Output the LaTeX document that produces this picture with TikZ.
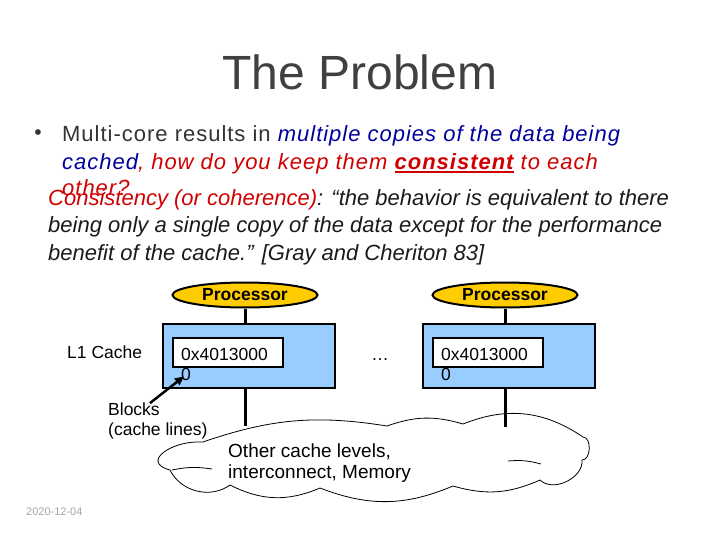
\documentclass[tikz,border=0pt]{standalone}
\usepackage{fontspec}
\setmainfont{Liberation Sans}
\newfontfamily\widefont[LetterSpace=4.5]{Liberation Sans}
\usetikzlibrary{shapes.geometric}
\usetikzlibrary{arrows.meta}

\definecolor{slidegray}{HTML}{404040}
\definecolor{textgray}{HTML}{333333}
\definecolor{quoteblack}{HTML}{1A1A1A}
\definecolor{keyblue}{HTML}{00009C}
\definecolor{keyred}{HTML}{D00000}
\definecolor{cachefill}{HTML}{99CCFF}
\definecolor{procfill}{HTML}{FFCC00}
\definecolor{dategray}{HTML}{A6A6A6}

\newcommand{\setfs}[1]{\fontsize{#1}{#1}\selectfont}
\newsavebox{\ulwordbox}
\newcommand{\ulword}[1]{\sbox{\ulwordbox}{#1}\rlap{\rule[-3pt]{\wd\ulwordbox}{1.6pt}}\usebox{\ulwordbox}}

\begin{document}
\begin{tikzpicture}[x=1pt, y=-1pt,
  txt/.style={inner sep=0, anchor=base west},
  proc/.style={ellipse, draw, line width=2pt, fill=procfill, minimum width=145pt,
    minimum height=25pt, inner sep=0, font=\bfseries\setfs{17.5}},
  cachebox/.style={draw, line width=2.5pt, fill=cachefill, minimum width=172pt, minimum height=64pt},
  blockbox/.style={draw, line width=2.5pt, fill=white, minimum width=110pt, minimum height=29pt},
  wire/.style={line width=3pt},
  puff/.style={line width=0.8pt}]

  \useasboundingbox (0,0) rectangle (720,540);

  % Title
  \node[inner sep=0, anchor=base, font=\setfs{48}, text=slidegray] (title) at (360,90) {The Problem};

  % Bullet text
  \node[inner sep=0, font=\setfs{21}, text=textgray] (dot) at (38,135) {\textbullet};
  \node[txt, font=\widefont\setfs{22}, text=textgray] (line1) at (62,142)
    {Multi-core results in \textcolor{keyblue}{\itshape multiple copies of the data being}};
  \node[txt, font=\widefont\setfs{22}\itshape, text=keyred] (line2) at (62,170)
    {\textcolor{keyblue}{cached}, how do you keep them \ulword{\bfseries consistent} to each};
  \node[txt, font=\widefont\setfs{22}\itshape, text=keyred] (line3) at (62,196) {other?};

  % Quote
  \node[txt, font=\setfs{22}\itshape, text=quoteblack] (quote1) at (48,206)
    {\textcolor{keyred}{Consistency (or coherence)}: “the behavior is equivalent to there};
  \node[txt, font=\setfs{22}\itshape, text=quoteblack] (quote2) at (48,233)
    {being only a single copy of the data except for the performance};
  \node[txt, font=\setfs{22}\itshape, text=quoteblack] (quote3) at (48,260)
    {benefit of the cache.” [Gray and Cheriton 83]};

  % Memory cloud
  \draw[puff, fill=white] (203,442) .. controls (172,440) and (140,462) .. (170,470)
    to[bend right=50] (230,485) to[bend right=25] (320,488) to[bend right=22] (453,486)
    to[bend right=20] (540,480) to[bend right=70] (582,460) to[bend right=90] (583,437)
    to[bend right=28] (463,424) to[bend right=18] (387,426) to[bend right=14] (203,442) -- cycle;
  \draw[puff] (172,470) to[bend left=10] (212,469);
  \draw[puff] (508,461) to[bend left=10] (541,464);
  \node[txt, font=\setfs{19}] (mem) at (228,457) {Other cache levels,};
  \node[txt, font=\setfs{19}] (memb) at (228,478) {interconnect, Memory};
  \coordinate (mem1) at (245,426);
  \coordinate (mem2) at (505,427);

  % Processors and L1 caches
  \node[proc] (proc1) at (245,295) {Processor};
  \node[proc] (proc2) at (505,295) {Processor};
  \node[cachebox] (l1a) at (249,356) {};
  \node[cachebox] (l1b) at (509,356) {};
  \node[blockbox] (blk1) at (228,352.5) {};
  \node[blockbox] (blk2) at (488,352.5) {};
  \node[txt, font=\setfs{17.5}] (val1) at (181,360) {0x4013000};
  \node[txt, font=\setfs{17.5}] (val1b) at (181,380) {0};
  \node[txt, font=\setfs{17.5}] (val2) at (441,360) {0x4013000};
  \node[txt, font=\setfs{17.5}] (val2b) at (441,380) {0};
  \node[inner sep=0, anchor=base, font=\setfs{17.5}] (dots) at (380,360) {…};

  \draw[wire] (proc1.south) -- (proc1.south |- l1a.north);
  \draw[wire] (proc2.south) -- (proc2.south |- l1b.north);
  \draw[wire] (l1a.south -| proc1) -- (mem1);
  \draw[wire] (l1b.south -| proc2) -- (mem2);

  % Labels
  \node[txt, font=\setfs{17.5}] (l1) at (67,358) {L1 Cache};
  \node[txt, font=\setfs{17.5}] (blocks) at (108,415) {Blocks};
  \node[txt, font=\setfs{17.5}] (blocksb) at (108,435) {(cache lines)};
  \draw[line width=2.5pt, -{Triangle[length=9pt,width=8pt]}]
    ([shift={(-10,1)}]blocks.north east) -- ([shift={(3,-4)}]val1b.south west);

  % Footer
  \node[txt, font=\setfs{11}, text=dategray] (date) at (26,515) {2020-12-04};

\end{tikzpicture}
\end{document}
